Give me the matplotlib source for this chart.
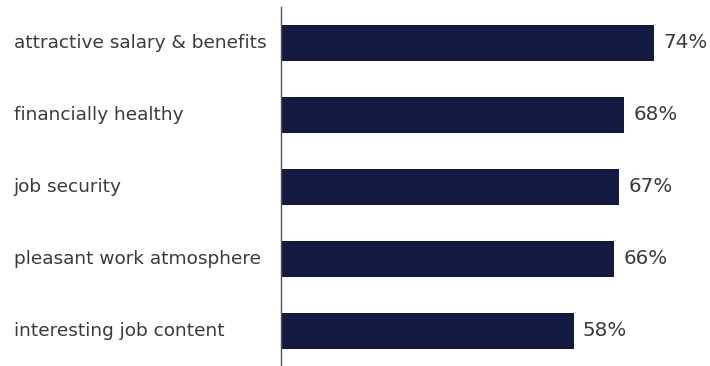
import matplotlib.pyplot as plt

# survey results: share of respondents naming each employer attribute
labels = ['attractive salary & benefits', 'financially healthy', 'job security',
          'pleasant work atmosphere', 'interesting job content']
values = [74, 68, 67, 66, 58]

bar_color = '#131a42'
text_color = '#3a3a3a'

fig = plt.figure(figsize=(7.10, 3.66), dpi=100)
ax = fig.add_axes([281 / 710, -1 / 366, 429 / 710, 360 / 366])

pos = list(range(len(labels)))
ax.barh(pos, values, height=0.5, color=bar_color)
ax.set_ylim(len(labels) - 0.5, -0.5)
ax.set_xlim(0, 85)

for p, v in zip(pos, values):
    ax.text(v + 1.8, p, f'{v}%', va='center', ha='left',
            fontsize=14.3, color=text_color)

# category labels sit left-aligned at the figure edge
for p, lab in zip(pos, labels):
    ax.text(-267 / 5.04, p, lab, va='center', ha='left',
            fontsize=13.3, color=text_color, clip_on=False)

for s in ['top', 'right', 'bottom']:
    ax.spines[s].set_visible(False)
ax.spines['left'].set_color('#505050')
ax.spines['left'].set_linewidth(1.0)
ax.set_xticks([])
ax.set_yticks([])

fig.savefig('out.png', dpi=100)
